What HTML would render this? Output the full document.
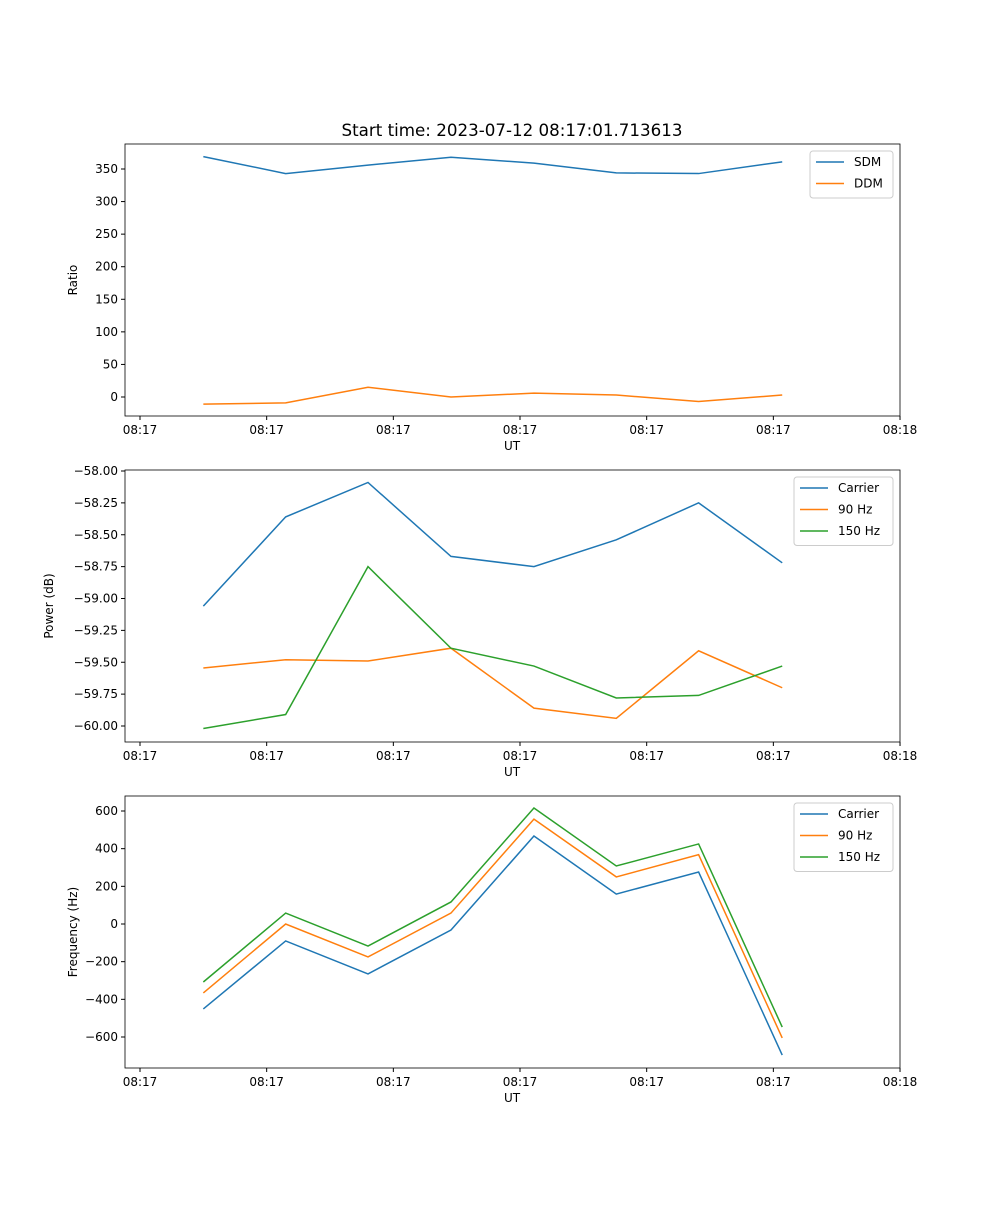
<!DOCTYPE html>
<html><head><meta charset="utf-8"><style>
body{margin:0;background:#fff;font-family:"Liberation Sans","DejaVu Sans",sans-serif}
svg text{font-family:"DejaVu Sans","Liberation Sans",sans-serif;font-size:12px;fill:#000}
</style></head><body>
<svg id="fig" width="1000" height="1200" xmlns="http://www.w3.org/2000/svg">
<rect width="1000" height="1200" fill="#fff"/>
<text x="512" y="136" text-anchor="middle" style="font-size:16.7px">Start time: 2023-07-12 08:17:01.713613</text>
</svg>
<script>
const times=[0.5,1.15,1.8,2.455,3.11,3.76,4.41,5.07];
const xTickLabels=["08:17","08:17","08:17","08:17","08:17","08:17","08:18"];
const sdm=[369,343,356,368,359,344,343,361];
const ddm=[-11,-9,15,0,6,3,-7,3];
const ratioTicks=[0,50,100,150,200,250,300,350];
const pCarrier=[-59.06,-58.36,-58.09,-58.67,-58.75,-58.54,-58.25,-58.72];
const p90=[-59.545,-59.48,-59.49,-59.39,-59.86,-59.94,-59.41,-59.70];
const p150=[-60.02,-59.91,-58.75,-59.39,-59.53,-59.78,-59.76,-59.53];
const powerTicks=[-60,-59.75,-59.5,-59.25,-59,-58.75,-58.5,-58.25,-58];
const fCarrier=[-451,-90,-265,-32,467,159,276,-696];
const f90=[-366,0,-175,58,557,250,368,-605];
const f150=[-308,58,-117,117,616,308,425,-547];
const freqTicks=[-600,-400,-200,0,200,400,600];

const NS="http://www.w3.org/2000/svg";
const svg=document.getElementById('fig');
function mk(tag,at,parent){const e=document.createElementNS(NS,tag);for(const k in at)e.setAttribute(k,at[k]);(parent||svg).appendChild(e);return e;}
const X0=125,X1=900;
function xs(t){return 140+t*126.67;}
const colors=["#1f77b4","#ff7f0e","#2ca02c"];
function panel(id,top,bottom,y0v,y0p,y1v,y1p,ticks,fmt,ylabel,series,names,legBox){
  const g=mk('g',{});
  
  
  const ys=v=>y0p+(v-y0v)*(y1p-y0p)/(y1v-y0v);
  ticks.forEach(v=>{const y=ys(v);
    mk('line',{x1:X0-4,x2:X0,y1:y,y2:y,stroke:'#000'},g);
    const t=mk('text',{x:X0-7,y:y+4,'text-anchor':'end'},g);t.textContent=fmt(v);
    
    });
  xTickLabels.forEach((l,i)=>{const x=xs(i);
    mk('line',{x1:x,x2:x,y1:bottom,y2:bottom+4,stroke:'#000'},g);
    const t=mk('text',{x:x,y:bottom+18,'text-anchor':'middle'},g);t.textContent=l;
    
    });
  const xl=mk('text',{x:512,y:bottom+34,'text-anchor':'middle'},g);xl.textContent='UT';
  
  
  const yc=(top+bottom)/2;const lx=X0-(fmt(ticks[0]).length>5?72:48);
  const yl=mk('text',{x:lx,y:yc,'text-anchor':'middle',transform:`rotate(-90 ${lx} ${yc})`},g);yl.textContent=ylabel;
  
  
  series.forEach((s,k)=>{const p=mk('polyline',{points:s.map((v,i)=>xs(times[i])+','+ys(v)).join(' '),fill:'none',stroke:colors[k],'stroke-width':1.5},g);
    
    });
  mk('rect',{x:X0,y:top,width:X1-X0,height:bottom-top,fill:'none',stroke:'#000','stroke-width':0.8},g);
  const lg=mk('g',{},g);
  
  
  mk('rect',{x:legBox[0],y:top+7,width:X1-7-legBox[0],height:names.length*21.5+4,fill:'#fff',stroke:'#ccc',rx:3},lg);
  names.forEach((n,k)=>{const y=top+18+k*21.5;
    mk('line',{x1:legBox[0]+6,x2:legBox[0]+34,y1:y,y2:y,stroke:colors[k],'stroke-width':1.5},lg);
    const t=mk('text',{x:legBox[0]+44,y:y+4},lg);t.textContent=n;
    
    });
}
panel('ratio',144,416,0,397,350,169,ratioTicks,v=>String(v),'Ratio',[sdm,ddm],['SDM','DDM'],[810]);
panel('power',470,742,-58,471,-60,726,powerTicks,v=>(v<0?'\u2212':'')+Math.abs(v).toFixed(2),'Power (dB)',[pCarrier,p90,p150],['Carrier','90 Hz','150 Hz'],[794]);
panel('frequency',796,1068,0,924,600,811,freqTicks,v=>(v<0?'\u2212':'')+Math.abs(v),'Frequency (Hz)',[fCarrier,f90,f150],['Carrier','90 Hz','150 Hz'],[794]);
</script>
</body></html>
